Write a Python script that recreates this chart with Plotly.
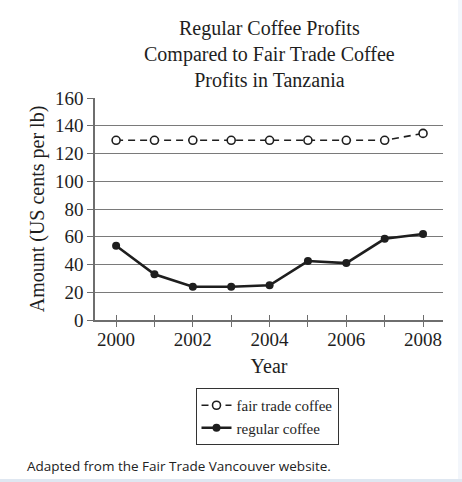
import plotly.graph_objects as go

# données
years = [2000, 2001, 2002, 2003, 2004, 2005, 2006, 2007, 2008]
fair_trade = [129.5, 129.5, 129.5, 129.5, 129.5, 129.5, 129.5, 129.5, 134.5]
regular = [53.5, 33, 24, 24, 25, 42.5, 41, 58.5, 62]
tick_years = [2000, 2002, 2004, 2006, 2008]
y_ticks = [0, 20, 40, 60, 80, 100, 120, 140, 160]

W, H = 462, 482
L, R, T, B = 95, 19, 98, 162
pw, ph = W - L - R, H - T - B

def px_x(x):
    return (x - L) / pw

def px_y(y):
    return (H - B - y) / ph

serif = "Liberation Serif"
ink = "#1e1e1e"
axis_col = "#6e6e6e"

fig = go.Figure()

fig.add_trace(go.Scatter(
    x=years, y=fair_trade, name="fair trade coffee",
    mode="lines+markers",
    line=dict(color=ink, width=1.6, dash="7px,5px"),
    marker=dict(symbol="circle", size=8, color="white",
                line=dict(color=ink, width=1.6)),
))
fig.add_trace(go.Scatter(
    x=years, y=regular, name="regular coffee",
    mode="lines+markers",
    line=dict(color=ink, width=2.6),
    marker=dict(symbol="circle", size=8, color=ink),
))

# axe x secondaire pour les graduations qui traversent l'axe
fig.add_trace(go.Scatter(x=years, y=[None] * len(years), xaxis="x2",
                         showlegend=False, hoverinfo="skip"))

xr = [1999.45, 2008.52]

fig.update_layout(
    width=W, height=H,
    margin=dict(l=L, r=R, t=T, b=B, autoexpand=False),
    paper_bgcolor="white", plot_bgcolor="white",
    font=dict(family=serif, color=ink, size=19),
    xaxis=dict(
        range=xr, tickmode="array", tickvals=years,
        ticktext=[str(y) if y in tick_years else "" for y in years],
        ticks="outside", ticklen=5, tickcolor=axis_col, tickwidth=1,
        showline=True, linecolor=axis_col, linewidth=1.5,
        showgrid=False, zeroline=False, ticklabelstandoff=-4,
        tickfont=dict(family=serif, size=19, color=ink),
        title=dict(text="Year", font=dict(family=serif, size=20, color=ink), standoff=10),
    ),
    xaxis2=dict(
        range=xr, overlaying="x", anchor="y", side="bottom",
        tickmode="array", tickvals=years, showticklabels=False,
        ticks="inside", ticklen=5, tickcolor=axis_col, tickwidth=1,
        showgrid=False, zeroline=False, showline=False,
    ),
    yaxis=dict(
        range=[0, 160], tickmode="array", tickvals=y_ticks,
        ticks="outside", ticklen=6, tickcolor=axis_col, tickwidth=1,
        showline=True, linecolor=axis_col, linewidth=1.5,
        showgrid=True, gridcolor="#7a7a7a", gridwidth=1,
        zeroline=False,
        tickfont=dict(family=serif, size=19, color=ink),
        title=dict(text="Amount (US cents per lb)",
                   font=dict(family=serif, size=20, color=ink), standoff=5),
    ),
    legend=dict(
        x=px_x(267), xanchor="center", y=px_y(388), yanchor="top",
        bordercolor="#333333", borderwidth=1, bgcolor="white",
        font=dict(family=serif, size=15, color=ink),
        itemwidth=30, tracegroupgap=0,
    ),
    showlegend=True,
)

# titre sur trois lignes
fig.add_annotation(
    text="Regular Coffee Profits<br>Compared to Fair Trade Coffee<br>Profits in Tanzania",
    xref="paper", yref="paper", x=px_x(269), y=px_y(54),
    xanchor="center", yanchor="middle", showarrow=False,
    font=dict(family=serif, size=20, color=ink),
)

fig.add_annotation(
    text="Adapted from the Fair Trade Vancouver website.",
    xref="paper", yref="paper", x=px_x(25), y=px_y(466),
    xanchor="left", yanchor="middle", showarrow=False,
    font=dict(family="Open Sans", size=13.5, color="#222"),
)

# bandes bleutées en bas et à droite
fig.add_shape(type="rect", xref="paper", yref="paper",
              x0=px_x(0), x1=px_x(W), y0=px_y(H), y1=px_y(479),
              fillcolor="#dfe7f1", line=dict(width=0), layer="above")
fig.add_shape(type="rect", xref="paper", yref="paper",
              x0=px_x(458), x1=px_x(W), y0=px_y(479), y1=px_y(0),
              fillcolor="#f3f6fb", line=dict(width=0), layer="above")

fig.write_html("out.html", config={"displayModeBar": False})

# enlever la marge par défaut du body
with open("out.html") as f:
    page = f.read()
page = page.replace("<body>", '<body style="margin:0;overflow:hidden">', 1)
with open("out.html", "w") as f:
    f.write(page)
